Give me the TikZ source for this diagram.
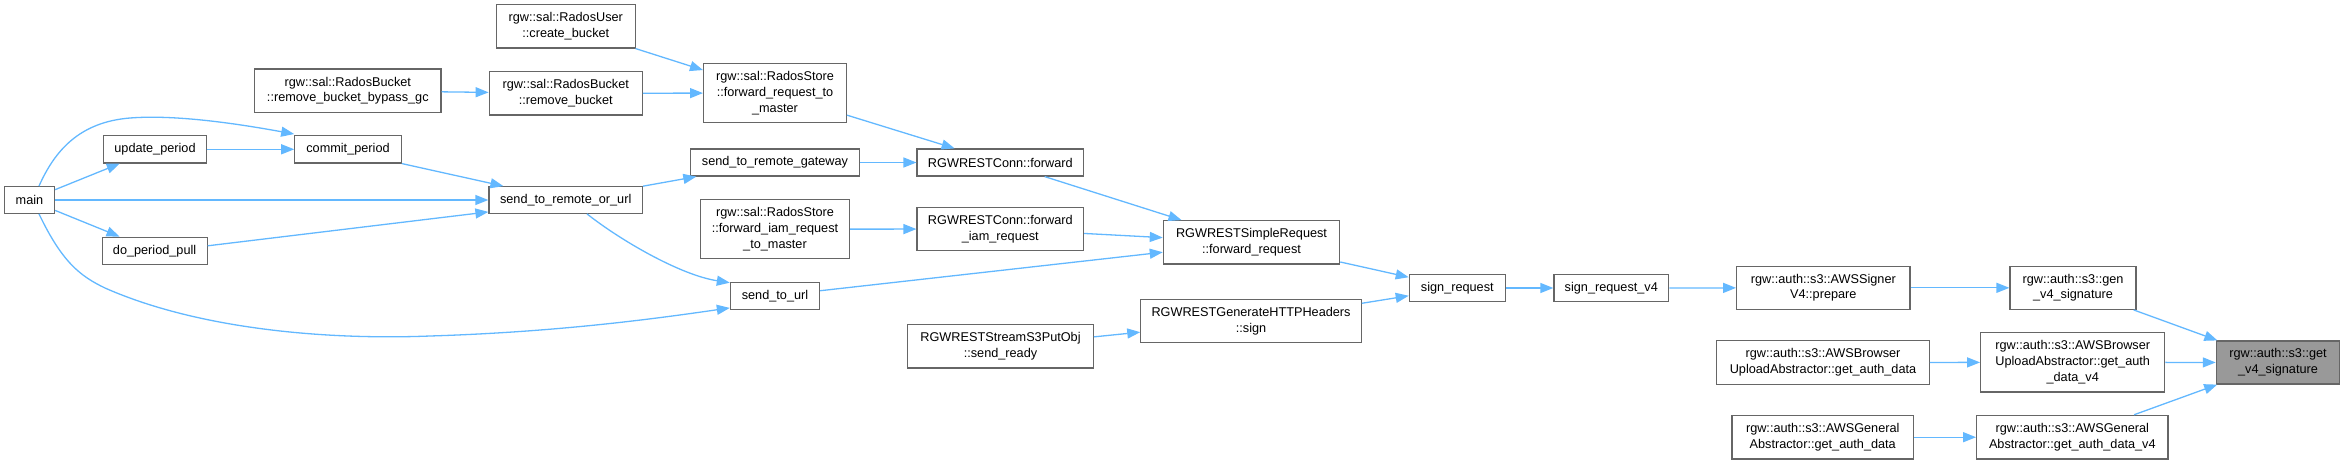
\documentclass[tikz,border=0pt]{standalone}
\usepackage{fontspec}
\setmainfont{Liberation Sans}
\usetikzlibrary{arrows.meta}
\definecolor{edgeblue}{HTML}{63B8FF}
\definecolor{boxborder}{HTML}{666666}
\definecolor{hlfill}{HTML}{999999}
\tikzset{
  fn/.style={draw=boxborder, line width=1.2pt, fill=white, inner sep=0pt, align=center,
    font=\fontsize{12.7}{15.7}\selectfont},
  hl/.style={fn, fill=hlfill},
  call/.style={draw=edgeblue, line width=1.3pt, -{Triangle[length=13pt,width=10pt]}}
}
\begin{document}
\begin{tikzpicture}[x=1pt,y=-1pt]
\useasboundingbox (0,0) rectangle (2341,464);
% nodes
\node[fn, minimum width=50pt, minimum height=26.6pt] (main) at (29.5,200) {main};
\node[fn, minimum width=102.7pt, minimum height=27.3pt] (upd) at (155,149.3) {update\_period};
\node[fn, minimum width=105pt, minimum height=27.3pt] (dpp) at (154.6,250.8) {do\_period\_pull};
\node[fn, minimum width=106.4pt, minimum height=27.3pt] (commit) at (348,149.3) {commit\_period};
\node[fn, minimum width=186.5pt, minimum height=43.3pt] (bypass) at (347.8,90.7) {rgw::sal::RadosBucket\\::remove\_bucket\_bypass\_gc};
\node[fn, minimum width=153pt, minimum height=43.3pt] (rmb) at (565.7,93.3) {rgw::sal::RadosBucket\\::remove\_bucket};
\node[fn, minimum width=139pt, minimum height=43.3pt] (crb) at (565.8,26.3) {rgw::sal::RadosUser\\::create\_bucket};
\node[fn, minimum width=153.4pt, minimum height=26.6pt] (srou) at (565.7,200) {send\_to\_remote\_or\_url};
\node[fn, minimum width=142.8pt, minimum height=59.4pt] (frtm) at (775,93) {rgw::sal::RadosStore\\::forward\_request\_to\\\_master};
\node[fn, minimum width=169.6pt, minimum height=27pt] (srg) at (775,162.5) {send\_to\_remote\_gateway};
\node[fn, minimum width=149.2pt, minimum height=59pt] (firtm) at (775,229.2) {rgw::sal::RadosStore\\::forward\_iam\_request\\\_to\_master};
\node[fn, minimum width=89.2pt, minimum height=27pt] (stu) at (775,295.8) {send\_to\_url};
\node[fn, minimum width=166.5pt, minimum height=27pt] (cf) at (1000.3,162.5) {RGWRESTConn::forward};
\node[fn, minimum width=166.5pt, minimum height=43.4pt] (cfi) at (1000.3,229) {RGWRESTConn::forward\\\_iam\_request};
\node[fn, minimum width=185.7pt, minimum height=43.3pt] (sr3) at (1000.5,346.3) {RGWRESTStreamS3PutObj\\::send\_ready};
\node[fn, minimum width=176.3pt, minimum height=43.3pt] (sfr) at (1251.5,242.3) {RGWRESTSimpleRequest\\::forward\_request};
\node[fn, minimum width=220.3pt, minimum height=43.4pt] (ghs) at (1251,321) {RGWRESTGenerateHTTPHeaders\\::sign};
\node[fn, minimum width=96pt, minimum height=27.4pt] (sreq) at (1457.3,288) {sign\_request};
\node[fn, minimum width=114.7pt, minimum height=27.4pt] (sreqv) at (1611.3,288) {sign\_request\_v4};
\node[fn, minimum width=173.3pt, minimum height=43pt] (prep) at (1823.3,287.8) {rgw::auth::s3::AWSSigner\\V4::prepare};
\node[fn, minimum width=126pt, minimum height=43pt] (gen) at (2073,287.8) {rgw::auth::s3::gen\\\_v4\_signature};
\node[hl, minimum width=123.3pt, minimum height=43pt] (get) at (2278,362.5) {rgw::auth::s3::get\\\_v4\_signature};
\node[fn, minimum width=212.6pt, minimum height=43.6pt] (bgad) at (1823,362.5) {rgw::auth::s3::AWSBrowser\\UploadAbstractor::get\_auth\_data};
\node[fn, minimum width=184pt, minimum height=59.3pt] (bgadv) at (2072.7,362.3) {rgw::auth::s3::AWSBrowser\\UploadAbstractor::get\_auth\\\_data\_v4};
\node[fn, minimum width=181.3pt, minimum height=43.7pt] (ggad) at (1822.7,437.2) {rgw::auth::s3::AWSGeneral\\Abstractor::get\_auth\_data};
\node[fn, minimum width=191.3pt, minimum height=43.7pt] (ggadv) at (2072.3,437.2) {rgw::auth::s3::AWSGeneral\\Abstractor::get\_auth\_data\_v4};
% edges
\draw[call] (main) -- (upd);
\draw[call] (main) -- (dpp);
\draw[call] (main) -- (srou);
\draw[call] ([xshift=9.5pt]main.north) .. controls (55,150) and (80,122) .. (130,118)
  .. controls (180,114) and (250,126) .. ([yshift=1pt]commit.north west);
\draw[call] ([xshift=9.5pt]main.south) .. controls (62,262) and (80,276) .. (105,288)
  .. controls (200,330) and (330,340) .. (430,336)
  .. controls (560,332) and (660,318) .. ([yshift=2pt]stu.south west);
\draw[call] (upd) -- (commit);
\draw[call] (commit.south east) -- ([xshift=15pt]srou.north west);
\draw[call] ([yshift=5pt]dpp.east) -- ([yshift=2pt]srou.south west);
\draw[call] (bypass) -- (rmb);
\draw[call] (rmb) -- (frtm);
\draw[call] (crb) -- (frtm);
\draw[call] (srou) -- (srg);
\draw[call] ([xshift=21.3pt]srou.south) .. controls (620,240) and (680,275) .. ([yshift=-1pt]stu.north west);
\draw[call] (frtm) -- (cf);
\draw[call] (srg) -- (cf);
\draw[call] (firtm) -- (cfi);
\draw[call] (cf) -- (sfr);
\draw[call] (cfi) -- (sfr);
\draw[call] (stu) -- (sfr);
\draw[call] (sr3) -- (ghs);
\draw[call] (sfr) -- (sreq);
\draw[call] (ghs) -- (sreq);
\draw[call] (sreq) -- (sreqv);
\draw[call] (sreqv) -- (prep);
\draw[call] (prep) -- (gen);
\draw[call] (gen) -- (get);
\draw[call] (bgad) -- (bgadv);
\draw[call] (bgadv) -- (get);
\draw[call] (ggad) -- (ggadv);
\draw[call] (ggadv) -- (get);
\end{tikzpicture}
\end{document}
